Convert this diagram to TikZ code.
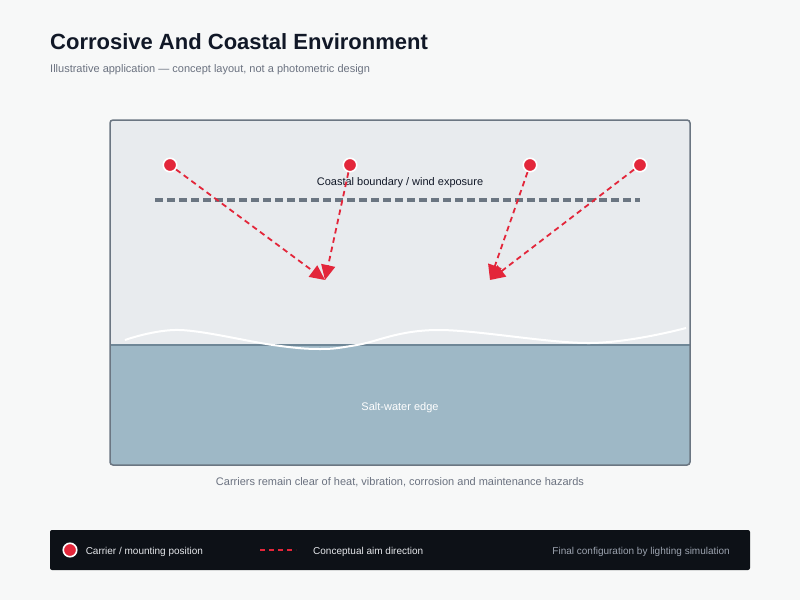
\documentclass[tikz,border=0pt]{standalone}
\usepackage{fontspec}
\setmainfont{Liberation Sans}
\usetikzlibrary{arrows.meta,positioning}
\definecolor{pagebg}{HTML}{F7F8F8}
\definecolor{landfill}{HTML}{E8EBEE}
\definecolor{frameline}{HTML}{6B7682}
\definecolor{waterfill}{HTML}{9EB8C6}
\definecolor{waterline}{HTML}{6F8797}
\definecolor{aimred}{HTML}{E3263A}
\definecolor{inkdark}{HTML}{111827}
\definecolor{inkgray}{HTML}{6B7280}
\definecolor{legendbg}{HTML}{0D1117}
\definecolor{legendink}{HTML}{E5E7EB}
\definecolor{legendgray}{HTML}{9CA3AF}

\begin{document}
\begin{tikzpicture}[x=1pt, y=-1pt, font=\fontsize{11}{13}\selectfont,
carrier/.style={circle, fill=aimred, draw=white, line width=1.6pt, minimum size=13.5pt, inner sep=0pt},
aim/.style={draw=aimred, line width=1.8pt, dash pattern=on 5.5pt off 4pt, -{Triangle[length=15pt, width=14pt]}},
boundary/.style={draw=frameline, line width=3.5pt, dash pattern=on 8pt off 4pt},
lbl/.style={inner sep=0pt, text=inkdark},
legtext/.style={inner sep=0pt, anchor=west, text=legendink, font=\fontsize{10}{12}\selectfont},]
 \useasboundingbox[fill=pagebg] (0,0) rectangle (800,600);

 % title
 \node[lbl, anchor=base west, font=\fontsize{22}{26}\selectfont\bfseries] (title) at (50,49) {Corrosive And Coastal Environment};
 \node[lbl, anchor=base west, text=inkgray] (subtitle) at (50,72.5) {Illustrative application — concept layout, not a photometric design};

 % site
 \fill[landfill, rounded corners=3pt] (110,120) rectangle (690,465);
 \fill[waterfill, rounded corners=3pt] (110,345) rectangle (690,465);
 \fill[waterfill] (110,345) rectangle (690,400);
 \draw[waterline, line width=1.5pt] (110,345) -- (690,345);
 \draw[white, line width=2pt] plot[smooth, tension=0.6] coordinates {(125,340) (180,330) (273,345) (320,349) (357,345) (437,330) (590,343) (686,328)};
 \draw[frameline, line width=1.5pt, rounded corners=3pt] (110,120) rectangle (690,465);

 \node[lbl] (coastlbl) at (400,182.5) {Coastal boundary / wind exposure};
 \draw[boundary] (155,200) -- (640,200);
 \node[lbl, text=white] (waterlbl) at (400,407.5) {Salt-water edge};

 % carriers and aim
 \node[carrier] (c1) at (170,165) {};
 \node[carrier] (c2) at (350,165) {};
 \node[carrier] (c3) at (530,165) {};
 \node[carrier] (c4) at (640,165) {};
 \coordinate (t1) at (325,280);
 \coordinate (t2) at (490,280);
 \draw[aim] (c1) -- (t1);
 \draw[aim] (c2) -- (t1);
 \draw[aim] (c3) -- (t2);
 \draw[aim] (c4) -- (t2);

 \node[lbl, text=inkgray] (caption) at (400,482) {Carriers remain clear of heat, vibration, corrosion and maintenance hazards};

 % legend
 \fill[legendbg, rounded corners=2pt] (50,530) rectangle (750,570);
 \node[carrier] (legdot) at (70,550) {};
 \node[legtext, right=8pt of legdot, yshift=-1.5pt] (legcarrier) {Carrier / mounting position};
 \coordinate (legaimA) at (260,550);
 \coordinate (legaimB) at (296,550);
 \draw[draw=aimred, line width=1.6pt, dash pattern=on 5pt off 4pt] (legaimA) -- (legaimB);
 \node[legtext, right=17pt of legaimB, yshift=-1.5pt] (legaim) {Conceptual aim direction};
 \node[legtext, anchor=east, text=legendgray] (legnote) at (730,551.5) {Final configuration by lighting simulation};
\end{tikzpicture}
\end{document}
